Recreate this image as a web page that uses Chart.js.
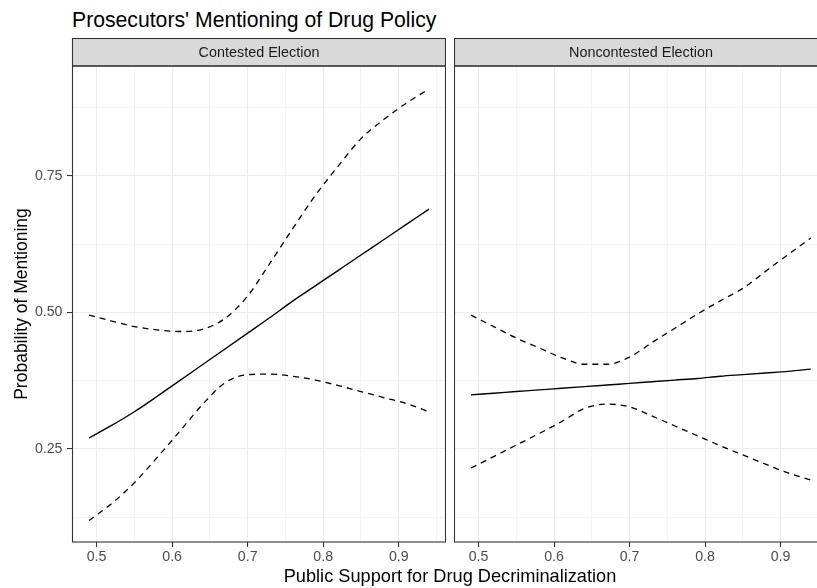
<!DOCTYPE html>
<html>
<head>
<meta charset="utf-8">
<script src="https://cdn.jsdelivr.net/npm/chart.js@4.4.1/dist/chart.umd.min.js"></script>
<style>
  html, body { margin: 0; padding: 0; background: #fff; overflow: hidden; }
  #wrap { position: relative; width: 817px; height: 588px; overflow: hidden; }
  canvas { position: absolute; top: 0; }
  .txt { position: absolute; font-family: 'Liberation Sans', Arial, sans-serif; color: #000; white-space: nowrap; line-height: 1; }
</style>
</head>
<body>
<div id="wrap">
  <div class="txt" style="left:72px; top:8.8px; font-size:21.2px;">Prosecutors' Mentioning of Drug Policy</div>
  <canvas id="left" width="446" height="588" style="left:0"></canvas>
  <canvas id="right" width="363" height="588" style="left:454px"></canvas>
  <div class="txt" style="left:0; width:900px; text-align:center; top:566.5px; font-size:18.2px;">Public Support for Drug Decriminalization</div>
</div>
<script>
// ── Data ──
const xs = [0.49, 0.52, 0.55, 0.58, 0.61, 0.64, 0.67, 0.70, 0.73, 0.76, 0.79, 0.82, 0.85, 0.88, 0.91, 0.94];

const contestedFit   = [0.270, 0.293, 0.318, 0.346, 0.375, 0.404, 0.433, 0.462, 0.491, 0.521, 0.549, 0.577, 0.605, 0.633, 0.661, 0.689];
const contestedUpper = [0.495, 0.484, 0.474, 0.468, 0.465, 0.469, 0.489, 0.530, 0.591, 0.654, 0.715, 0.768, 0.818, 0.853, 0.883, 0.909];
const contestedLower = [0.119, 0.150, 0.188, 0.234, 0.282, 0.331, 0.371, 0.386, 0.387, 0.383, 0.376, 0.366, 0.355, 0.344, 0.333, 0.318];

const noncontestedFit   = [0.349, 0.352, 0.355, 0.358, 0.361, 0.364, 0.367, 0.370, 0.373, 0.376, 0.379, 0.383, 0.386, 0.389, 0.392, 0.396];
const noncontestedUpper = [0.495, 0.474, 0.453, 0.435, 0.417, 0.405, 0.405, 0.418, 0.445, 0.471, 0.497, 0.521, 0.544, 0.575, 0.606, 0.636];
const noncontestedLower = [0.215, 0.236, 0.257, 0.278, 0.300, 0.324, 0.332, 0.327, 0.310, 0.292, 0.274, 0.256, 0.239, 0.222, 0.206, 0.193];

const panelLabels = ['Contested Election', 'Noncontested Election'];

const xMajorTicks = [0.5, 0.6, 0.7, 0.8, 0.9];
const xTickLabels = ['0.5', '0.6', '0.7', '0.8', '0.9'];
const xMinorTicks = [0.55, 0.65, 0.75, 0.85, 0.95];
const yMajorTicks = [0.25, 0.5, 0.75];
const yTickLabels = ['0.25', '0.50', '0.75'];
const yMinorTicks = [0.125, 0.375, 0.625, 0.875];

// axis limits (ggplot 5% expansion); the right panel is cut off by the picture edge
const X_MIN = 0.4675, X_MAX = 0.9625, X_MAX_CROPPED = 0.9482;
const Y_MIN = 0.0796, Y_MAX = 0.951;

const FONT = "'Liberation Sans', Arial, sans-serif";
Chart.defaults.font.family = FONT;

const near = (list, v) => list.findIndex(m => Math.abs(m - v) < 1e-9);
const pts = arr => xs.map((x, i) => ({ x, y: arr[i] }));

// ── Strip + panel border (ggplot facet look) ──
const facetPlugin = {
  id: 'facet',
  afterDraw(chart, args, opts) {
    const a = chart.chartArea;
    const ctx = chart.ctx;
    const top = 38.5;
    const l = a.left + 0.5;
    const r = opts.openRight ? a.right + 2 : a.right - 0.5;
    ctx.save();
    ctx.lineWidth = 1.1;
    ctx.strokeStyle = '#333333';
    // strip
    ctx.fillStyle = '#D9D9D9';
    ctx.fillRect(l, top, r - l, a.top - top);
    ctx.strokeRect(l, top, r - l, a.top - top);
    ctx.fillStyle = '#1A1A1A';
    ctx.font = '14.4px ' + FONT;
    ctx.textAlign = 'center';
    ctx.textBaseline = 'middle';
    ctx.fillText(opts.label, opts.centerX != null ? opts.centerX : (l + r) / 2, (top + a.top) / 2 + 1);
    // panel border
    ctx.strokeRect(l, a.top, r - l, a.bottom - a.top);
    ctx.restore();
  }
};

function lineSet(arr, dashed) {
  return {
    data: pts(arr),
    borderColor: '#000000',
    borderWidth: dashed ? 1.3 : 1.4,
    borderDash: dashed ? [6, 5] : [],
    pointRadius: 0,
    cubicInterpolationMode: 'monotone',
    fill: false,
  };
}

function renderPanel(canvasId, label, fit, upper, lower, showY, xMax, stripCenter) {
  const ctx = document.getElementById(canvasId);
  new Chart(ctx, {
    type: 'line',
    data: {
      datasets: [lineSet(fit, false), lineSet(upper, true), lineSet(lower, true)],
    },
    plugins: [facetPlugin],
    options: {
      responsive: false,
      animation: false,
      layout: { padding: { top: 66, left: 0, right: 0, bottom: 0 } },
      plugins: {
        legend: { display: false },
        tooltip: { enabled: false },
        facet: { label, openRight: !showY, centerX: stripCenter },
      },
      scales: {
        x: {
          type: 'linear',
          min: X_MIN,
          max: xMax,
          afterBuildTicks: s => {
            s.ticks = [...xMajorTicks, ...xMinorTicks].filter(v => v <= xMax).sort().map(v => ({ value: v }));
          },
          afterFit: s => { s.height = 46; },
          border: { display: false },
          grid: {
            color: '#EBEBEB',
            lineWidth: c => near(xMajorTicks, c.tick.value) >= 0 ? 1.07 : 0.55,
            tickColor: c => near(xMajorTicks, c.tick.value) >= 0 ? '#333333' : 'rgba(0,0,0,0)',
            tickWidth: 1.07,
            tickLength: 5,
          },
          ticks: {
            autoSkip: false,
            maxRotation: 0,
            padding: 2,
            color: '#4D4D4D',
            font: { size: 14.2 },
            callback: v => { const i = near(xMajorTicks, v); return i >= 0 ? xTickLabels[i] : ''; },
          },
        },
        y: {
          type: 'linear',
          min: Y_MIN,
          max: Y_MAX,
          afterBuildTicks: s => { s.ticks = [...yMajorTicks, ...yMinorTicks].sort().map(v => ({ value: v })); },
          afterFit: s => { s.width = showY ? 72 : 0; },
          border: { display: false },
          title: {
            display: showY,
            text: 'Probability of Mentioning',
            color: '#000000',
            font: { size: 17.5 },
            padding: { top: 11.5, bottom: 0 },
          },
          grid: {
            color: '#EBEBEB',
            lineWidth: c => near(yMajorTicks, c.tick.value) >= 0 ? 1.07 : 0.55,
            tickColor: c => (showY && near(yMajorTicks, c.tick.value) >= 0) ? '#333333' : 'rgba(0,0,0,0)',
            tickWidth: 1.07,
            tickLength: 5,
            drawTicks: showY,
          },
          ticks: {
            display: showY,
            autoSkip: false,
            padding: 4.5,
            color: '#4D4D4D',
            font: { size: 14.2 },
            callback: v => { const i = near(yMajorTicks, v); return i >= 0 ? yTickLabels[i] : ''; },
          },
        },
      },
    },
  });
}

renderPanel('left', panelLabels[0], contestedFit, contestedUpper, contestedLower, true, X_MAX, null);
// strip label centred on the full (uncropped) panel width
renderPanel('right', panelLabels[1], noncontestedFit, noncontestedUpper, noncontestedLower, false, X_MAX_CROPPED, 187);
</script>
</body>
</html>
